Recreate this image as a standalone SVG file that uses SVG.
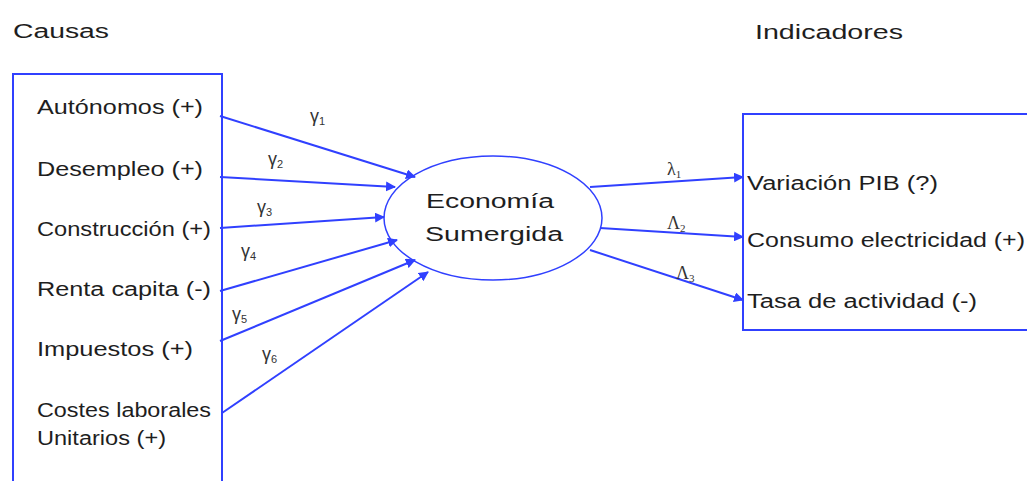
<svg xmlns="http://www.w3.org/2000/svg" width="1027" height="481" viewBox="0 0 1027 481">
<defs>
<style>
.t{font-family:"Liberation Sans",Arial,sans-serif;font-size:20px;fill:#1e1e1e}
.g{font-family:"Liberation Sans",Arial,sans-serif;font-size:18px;fill:#333}
.l{font-family:"Liberation Serif","Times New Roman",serif;font-size:18px;fill:#333}
.s{font-size:11px}
.box{fill:none;stroke:#3040ff;stroke-width:2}
.c{stroke:#3040ff;stroke-width:2;fill:none;marker-end:url(#a)}
</style>
<marker id="a" viewBox="0 0 10 10" refX="9" refY="5" markerWidth="5" markerHeight="5" orient="auto" markerUnits="strokeWidth">
<path d="M0,0 L10,5 L0,10 z" fill="#3040ff"/>
</marker>
</defs>
<rect width="1027" height="481" fill="#fff"/>
<text class="t" x="13" y="38" textLength="96" lengthAdjust="spacingAndGlyphs">Causas</text>
<text class="t" x="755" y="39" textLength="148" lengthAdjust="spacingAndGlyphs">Indicadores</text>
<g id="causas">
<rect class="box" x="13" y="74" width="209" height="420"/>
<text class="t" x="37" y="114" textLength="166" lengthAdjust="spacingAndGlyphs">Autónomos (+)</text>
<text class="t" x="37" y="176" textLength="166" lengthAdjust="spacingAndGlyphs">Desempleo (+)</text>
<text class="t" x="37" y="236" textLength="174" lengthAdjust="spacingAndGlyphs">Construcción (+)</text>
<text class="t" x="37" y="296" textLength="174" lengthAdjust="spacingAndGlyphs">Renta capita (-)</text>
<text class="t" x="37" y="356" textLength="156" lengthAdjust="spacingAndGlyphs">Impuestos (+)</text>
<text class="t" x="37" y="417" textLength="174" lengthAdjust="spacingAndGlyphs">Costes laborales</text>
<text class="t" x="37" y="445" textLength="129" lengthAdjust="spacingAndGlyphs">Unitarios (+)</text>
</g>
<g id="economia">
<ellipse cx="493" cy="218" rx="109" ry="62" fill="#fff" stroke="#3040ff" stroke-width="1.5"/>
<text class="t" x="426" y="208" textLength="128" lengthAdjust="spacingAndGlyphs">Economía</text>
<text class="t" x="425" y="241" textLength="138" lengthAdjust="spacingAndGlyphs">Sumergida</text>
</g>
<g id="indicadores">
<rect class="box" x="743" y="114" width="300" height="216"/>
<text class="t" x="747" y="190" textLength="191" lengthAdjust="spacingAndGlyphs">Variación PIB (?)</text>
<text class="t" x="747" y="247" textLength="278" lengthAdjust="spacingAndGlyphs">Consumo electricidad (+)</text>
<text class="t" x="747" y="308" textLength="230" lengthAdjust="spacingAndGlyphs">Tasa de actividad (-)</text>
</g>
<g id="connectors">
<path class="c" d="M220,116 L415,177"/>
<path class="c" d="M220,177 L395,187"/>
<path class="c" d="M220,228 L384,217"/>
<path class="c" d="M220,291 L397,240"/>
<path class="c" d="M220,341 L415,260"/>
<path class="c" d="M222,413 L428,272"/>
<path class="c" d="M590,187 L743,177"/>
<path class="c" d="M600,228 L743,237"/>
<path class="c" d="M590,250 L743,300"/>
</g>
<g id="labels">
<text class="g" x="310" y="122">γ<tspan class="s" dy="3">1</tspan></text>
<text class="g" x="268" y="165">γ<tspan class="s" dy="3">2</tspan></text>
<text class="g" x="257" y="213">γ<tspan class="s" dy="3">3</tspan></text>
<text class="g" x="241" y="257">γ<tspan class="s" dy="3">4</tspan></text>
<text class="g" x="232" y="320">γ<tspan class="s" dy="3">5</tspan></text>
<text class="g" x="262" y="360">γ<tspan class="s" dy="3">6</tspan></text>
<text class="l" x="667" y="175">λ<tspan class="s" dy="3">1</tspan></text>
<text class="l" x="667" y="229">Λ<tspan class="s" dy="3">2</tspan></text>
<text class="l" x="676" y="279">Λ<tspan class="s" dy="3">3</tspan></text>
</g>
</svg>
